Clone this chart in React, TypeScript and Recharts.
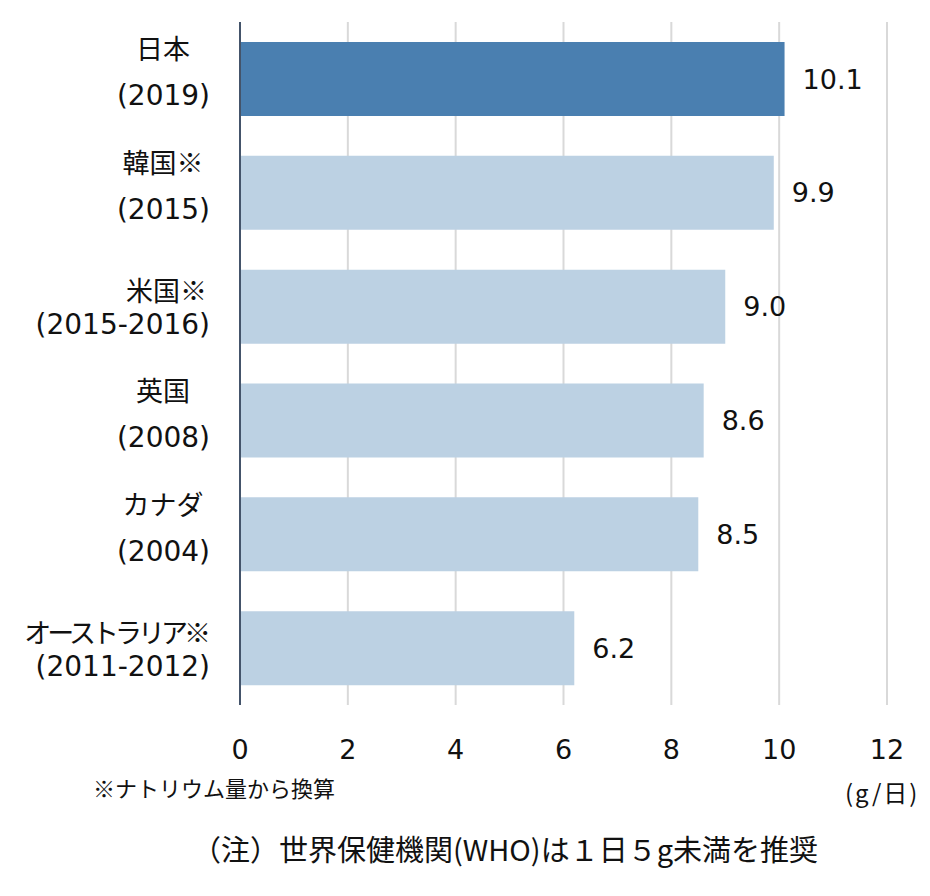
import { Bar, BarChart, CartesianGrid, Cell, LabelList, XAxis, YAxis } from "recharts";

const countries = ["日本", "韓国※", "米国※", "英国", "カナダ", "オーストラリア※"];
const years = ["(2019)", "(2015)", "(2015-2016)", "(2008)", "(2004)", "(2011-2012)"];
const salt = [10.1, 9.9, 9.0, 8.6, 8.5, 6.2];
const xTicks = [0, 2, 4, 6, 8, 10, 12];

const FONT = '"DejaVu Sans", "Noto Sans CJK JP", sans-serif';
const JP_FONT = '"Noto Sans CJK JP", "DejaVu Sans", sans-serif';

const data = countries.map((c, i) => ({ name: c, year: years[i], value: salt[i] }));

function CategoryTick(props: any) {
  const { x, y, payload } = props;
  const row = data.find((d) => d.name === payload.value);
  const tight = row && row.year.includes("-");
  const top = tight ? -17 : -31;
  const bottom = tight ? 18 : 17;
  const right = x - 22;
  const long = String(payload.value).length > 5;
  return (
    <g>
      <text
        x={tight ? right - 3 : right - 47}
        y={y + top}
        textAnchor={tight ? "end" : "middle"}
        dominantBaseline="central"
        fontSize={27}
        letterSpacing={long ? -4 : 0}
        fill="#111"
        fontFamily={JP_FONT}
      >
        {payload.value}
      </text>
      <text x={right} y={y + bottom} textAnchor="end" dominantBaseline="central" fontSize={28} fill="#111" fontFamily={FONT}>
        {row ? row.year : ""}
      </text>
    </g>
  );
}

export default function App() {
  return (
    <div style={{ position: "absolute", left: 0, top: 0, width: 930, height: 896, background: "#fff" }}>
      <BarChart
        width={930}
        height={896}
        data={data}
        layout="vertical"
        margin={{ top: 22, right: 43, bottom: 131, left: 0 }}
        barCategoryGap={20}
      >
        <CartesianGrid horizontal={false} stroke="#d9d9d9" strokeWidth={2} />
        <XAxis
          type="number"
          domain={[0, 12]}
          ticks={xTicks}
          axisLine={false}
          tickLine={false}
          height={60}
          tick={{ fontSize: 27, fill: "#111", fontFamily: FONT, dy: 27 }}
        />
        <YAxis
          type="category"
          dataKey="name"
          width={240}
          axisLine={{ stroke: "#44546a", strokeWidth: 2 }}
          tickLine={false}
          tick={<CategoryTick />}
        />
        <Bar dataKey="value" isAnimationActive={false}>
          {data.map((_, i) => (
            <Cell key={i} fill={i === 0 ? "#4a7fb0" : "#bcd1e3"} />
          ))}
          <LabelList
            dataKey="value"
            position="right"
            offset={18}
            formatter={(v: any) => Number(v).toFixed(1)}
            style={{ fontSize: 27, fill: "#111", fontFamily: FONT }}
          />
        </Bar>
      </BarChart>
      <div style={{ position: "absolute", left: 93, top: 771, fontSize: 22, fontFamily: JP_FONT, color: "#111", whiteSpace: "nowrap" }}>
        ※ナトリウム量から換算
      </div>
      <div style={{ position: "absolute", left: 845, top: 774, fontSize: 24, letterSpacing: 2, fontFamily: JP_FONT, color: "#111", whiteSpace: "nowrap" }}>
        (g/日)
      </div>
      <div style={{ position: "absolute", left: 0, width: 1010, top: 827, textAlign: "center", fontSize: 29, fontFamily: JP_FONT, color: "#111", whiteSpace: "nowrap" }}>
        （注）世界保健機関(WHO)は１日５g未満を推奨
      </div>
    </div>
  );
}
